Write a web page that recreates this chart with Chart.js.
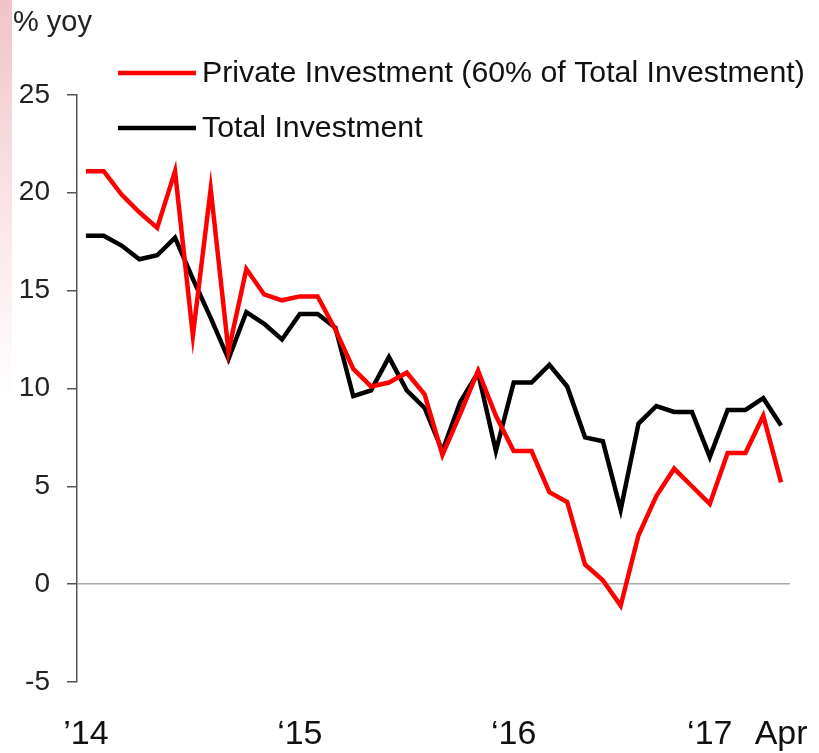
<!DOCTYPE html>
<html>
<head>
<meta charset="utf-8">
<script src="https://cdn.jsdelivr.net/npm/chart.js@4"></script>
<style>
html, body { margin: 0; padding: 0; background: #fff; }
#wrap { position: relative; width: 819px; height: 753px; }
#strip { position: absolute; left: 0; top: 0; width: 12px; height: 400px;
  background: linear-gradient(#f1c3c9 0%, #f5d3d7 25%, #fbe9eb 60%, rgba(255,255,255,0) 100%); }
canvas { position: absolute; left: 0; top: 0; }
</style>
</head>
<body>
<div id="wrap"><div id="strip"></div><canvas id="chart" width="819" height="753"></canvas></div>
<script>
// monthly, Jan 2014 - Apr 2017
const months = [
  'Jan 14','Feb 14','Mar 14','Apr 14','May 14','Jun 14','Jul 14','Aug 14','Sep 14','Oct 14','Nov 14','Dec 14',
  'Jan 15','Feb 15','Mar 15','Apr 15','May 15','Jun 15','Jul 15','Aug 15','Sep 15','Oct 15','Nov 15','Dec 15',
  'Jan 16','Feb 16','Mar 16','Apr 16','May 16','Jun 16','Jul 16','Aug 16','Sep 16','Oct 16','Nov 16','Dec 16',
  'Jan 17','Feb 17','Mar 17','Apr 17'
];

const privateInv = [
  21.1, 21.1, 19.9, 19.0, 18.2, 21.1, 12.7, 20.2, 11.9, 16.1, 14.8, 14.5,
  14.7, 14.7, 13.0, 11.0, 10.1, 10.3, 10.8, 9.7, 6.6, 8.7, 10.9, 8.6,
  6.8, 6.8, 4.7, 4.2, 1.0, 0.2, -1.1, 2.5, 4.5, 5.9, 5.0, 4.1,
  6.7, 6.7, 8.6, 5.2
];

const totalInv = [
  17.8, 17.8, 17.3, 16.6, 16.8, 17.7, 15.6, 13.6, 11.5, 13.9, 13.3, 12.5,
  13.8, 13.8, 13.1, 9.6, 9.9, 11.6, 9.9, 9.0, 6.8, 9.3, 10.8, 6.8,
  10.3, 10.3, 11.2, 10.1, 7.5, 7.3, 3.8, 8.2, 9.1, 8.8, 8.8, 6.5,
  8.9, 8.9, 9.5, 8.1
];

// x labels as printed on the source ('17 sits left of Jan to clear "Apr")
const tickText = { 'Jan 14': '\u201914', 'Jan 15': '\u201815', 'Jan 16': '\u201816', 'Dec 16': '\u201817', 'Apr 17': 'Apr' };

const FONT = '"Liberation Sans", Arial, sans-serif';

// legend sits inside the plot, top left
const insideLegend = {
  id: 'insideLegend',
  afterDraw(chart) {
    const ctx = chart.ctx;
    ctx.save();
    chart.data.datasets.forEach((ds, i) => {
      const y = 73 + i * 55;
      ctx.strokeStyle = ds.borderColor;
      ctx.lineWidth = 4.5;
      ctx.beginPath();
      ctx.moveTo(118, y);
      ctx.lineTo(196, y);
      ctx.stroke();
      ctx.fillStyle = '#111';
      ctx.font = '30.3px ' + FONT;
      ctx.textBaseline = 'middle';
      ctx.fillText(ds.label, 202, y + 1);
    });
    ctx.restore();
  }
};

new Chart(document.getElementById('chart'), {
  type: 'line',
  data: {
    labels: months,
    datasets: [
      { label: 'Private Investment (60% of Total Investment)', data: privateInv,
        borderColor: '#ff0000', borderWidth: 4.5, pointRadius: 0, tension: 0 },
      { label: 'Total Investment', data: totalInv,
        borderColor: '#000000', borderWidth: 4.5, pointRadius: 0, tension: 0 }
    ]
  },
  options: {
    responsive: false,
    animation: false,
    layout: { padding: { left: 13, right: 29, top: 0, bottom: 0 } },
    plugins: {
      legend: { display: false },
      tooltip: { enabled: false },
      title: {
        display: true, text: '% yoy', align: 'start', color: '#222',
        font: { size: 29, weight: 'normal', family: FONT },
        padding: { top: 6, bottom: 54 }
      }
    },
    scales: {
      x: {
        offset: true,
        border: { display: false },
        grid: { display: false, drawTicks: false },
        ticks: {
          autoSkip: false, maxRotation: 0, minRotation: 0, padding: 32,
          color: '#111', font: { size: 34, family: FONT },
          callback: (v, i) => tickText[months[i]] || ''
        },
        afterFit: s => { s.height = 71; s.paddingLeft = 0; s.paddingRight = 0; }
      },
      y: {
        min: -5, max: 25,
        border: { display: true, color: '#555', width: 1.5 },
        grid: {
          color: c => (c.tick && c.tick.value === 0) ? '#aaa' : 'rgba(0,0,0,0)',
          tickColor: '#555', tickLength: 10, lineWidth: 1.5
        },
        ticks: { stepSize: 5, padding: 17, color: '#222', font: { size: 28, family: FONT } },
        afterFit: s => { s.width = 64; }
      }
    }
  },
  plugins: [insideLegend]
});
</script>
</body>
</html>
